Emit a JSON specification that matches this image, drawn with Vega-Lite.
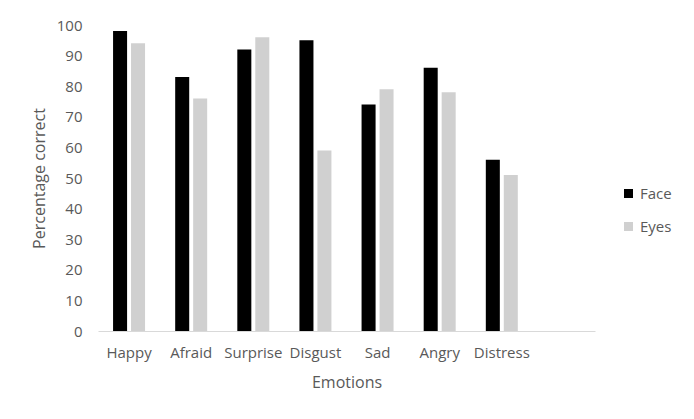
{
  "$schema": "https://vega.github.io/schema/vega-lite/v6.json",
  "autosize": {"type": "none"},
  "width": 497,
  "height": 306,
  "padding": {"left": 98, "top": 25, "right": 99, "bottom": 88},
  "background": "white",
  "data": {
    "values": [
      {"emotion": "Happy", "type": "Face", "value": 98},
      {"emotion": "Happy", "type": "Eyes", "value": 94},
      {"emotion": "Afraid", "type": "Face", "value": 83},
      {"emotion": "Afraid", "type": "Eyes", "value": 76},
      {"emotion": "Surprise", "type": "Face", "value": 92},
      {"emotion": "Surprise", "type": "Eyes", "value": 96},
      {"emotion": "Disgust", "type": "Face", "value": 95},
      {"emotion": "Disgust", "type": "Eyes", "value": 59},
      {"emotion": "Sad", "type": "Face", "value": 74},
      {"emotion": "Sad", "type": "Eyes", "value": 79},
      {"emotion": "Angry", "type": "Face", "value": 86},
      {"emotion": "Angry", "type": "Eyes", "value": 78},
      {"emotion": "Distress", "type": "Face", "value": 56},
      {"emotion": "Distress", "type": "Eyes", "value": 51}
    ]
  },
  "mark": {"type": "bar"},
  "encoding": {
    "x": {
      "field": "emotion",
      "type": "nominal",
      "scale": {
        "domain": ["Happy", "Afraid", "Surprise", "Disgust", "Sad", "Angry", "Distress", " "],
        "paddingInner": 0.485,
        "paddingOuter": 0.2425
      },
      "axis": {
        "title": "Emotions",
        "labelAngle": 0,
        "ticks": false,
        "domainColor": "#D9D9D9",
        "domainWidth": 1,
        "labelPadding": 14,
        "labelFontSize": 15,
        "titleFontSize": 16,
        "titleFontWeight": "normal",
        "titleY": 51,
        "titleBaseline": "middle"
      }
    },
    "xOffset": {
      "field": "type",
      "type": "nominal",
      "scale": {"domain": ["Face", "Eyes"], "paddingInner": 0.22, "paddingOuter": 0}
    },
    "y": {
      "field": "value",
      "type": "quantitative",
      "scale": {"domain": [0, 100]},
      "axis": {
        "title": "Percentage correct",
        "values": [0, 10, 20, 30, 40, 50, 60, 70, 80, 90, 100],
        "domain": false,
        "ticks": false,
        "grid": false,
        "labelPadding": 16,
        "labelFontSize": 15,
        "titleFontSize": 16,
        "titleFontWeight": "normal",
        "titleX": -59,
        "titleY": 153,
        "titleAngle": -90,
        "titleAlign": "center",
        "titleBaseline": "middle"
      }
    },
    "color": {
      "field": "type",
      "type": "nominal",
      "scale": {"domain": ["Face", "Eyes"], "range": ["#000000", "#D0D0D0"]},
      "legend": {
        "title": null,
        "orient": "none",
        "legendX": 523,
        "legendY": 161,
        "symbolType": "square",
        "symbolSize": 81,
        "labelFontSize": 15,
        "labelOffset": 4,
        "rowPadding": 17
      }
    }
  },
  "config": {
    "font": "Open Sans",
    "view": {"stroke": null},
    "axis": {"labelColor": "#595959", "titleColor": "#595959"},
    "legend": {"labelColor": "#595959"}
  }
}
